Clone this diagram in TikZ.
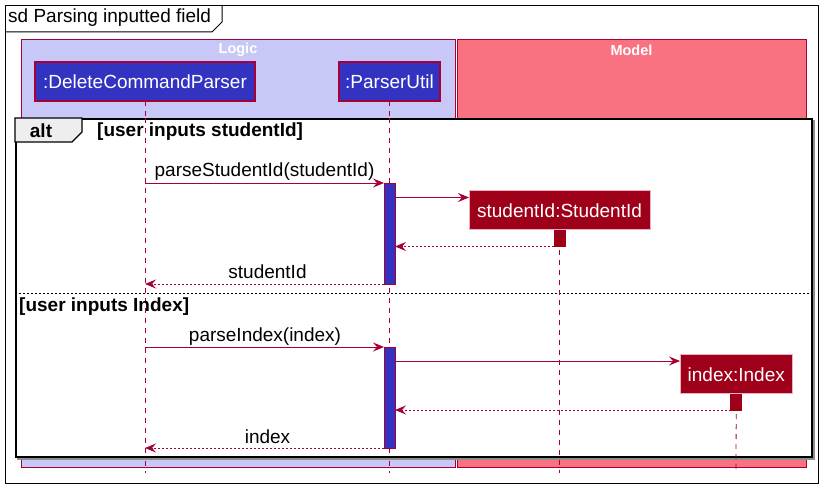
\documentclass[tikz,border=0pt]{standalone}
\usepackage{fontspec}
\setmainfont{Liberation Sans}
\usetikzlibrary{arrows.meta}
\definecolor{crim}{HTML}{A80036}
\definecolor{logicfill}{HTML}{C8C8F8}
\definecolor{modelfill}{HTML}{F87281}
\definecolor{partblue}{HTML}{3333C2}
\definecolor{objred}{HTML}{9F0019}
\definecolor{objborder}{HTML}{F0B0C0}
\definecolor{tabgray}{HTML}{EEEEEE}
\tikzset{
  txt/.style={font=\fontsize{19}{22}\selectfont, inner sep=0pt},
  boldtxt/.style={font=\fontsize{19}{22}\selectfont\bfseries, inner sep=0pt},
  pkgbox/.style={draw=crim, line width=0.8pt, anchor=north west, inner sep=0pt, outer sep=0pt},
  pkgtitle/.style={font=\fontsize{14.5}{16}\selectfont\bfseries, text=white, inner sep=0pt},
  partbox/.style={draw=crim, line width=1.4pt, fill=partblue, text=white, anchor=north west, inner sep=0pt, outer sep=0pt, font=\fontsize{19}{22}\selectfont},
  objbox/.style={draw=objborder, line width=1pt, fill=objred, text=white, anchor=north west, inner sep=0pt, outer sep=0pt, font=\fontsize{19}{22}\selectfont},
  actbar/.style={draw=crim, line width=0.8pt, fill=partblue, anchor=north west, inner sep=0pt, outer sep=0pt, minimum width=11, text width=0pt},
  objact/.style={draw=objred, line width=0.8pt, fill=objred, anchor=north west, inner sep=0pt, outer sep=0pt, minimum width=11, text width=0pt},
  lifeline/.style={draw=crim, line width=0.8pt, dash pattern=on 5pt off 5pt},
  msg/.style={draw=crim, line width=0.9pt, -{Stealth[length=11pt,width=9pt,inset=4pt]}},
  ret/.style={msg, dash pattern=on 2pt off 2pt},
}
\begin{document}
\begin{tikzpicture}[x=1pt,y=-1pt]
\useasboundingbox[fill=white] (0,0) rectangle (823,489);
% outer frame
\node[draw=black, line width=1pt, anchor=north west, minimum width=813, minimum height=478, inner sep=0pt] (frame) at (5,5) {};
\draw[black, line width=1pt] (5,32) -- (212,32) -- (222,22) -- (222,5);
\node[txt, anchor=west] (title) at (8,18) {sd Parsing inputted field};
% packages
\node[pkgbox, fill=logicfill, minimum width=434, minimum height=428] (logic) at (21,39) {};
\node[pkgbox, fill=modelfill, minimum width=349, minimum height=428] (model) at (457,39) {};
\node[pkgtitle] (logicT) at (238,50) {Logic};
\node[pkgtitle] (modelT) at (631.5,50) {Model};
% participants
\node[partbox, minimum width=220, minimum height=39] (dcp) at (35,62) {:DeleteCommandParser};
\node[partbox, minimum width=101, minimum height=39] (pu) at (339,62) {:ParserUtil};
\coordinate (dcpEnd) at (145,473);
\coordinate (puEnd) at (389.5,473);
\coordinate (sidEnd) at (559.5,473);
\coordinate (idxEnd) at (736,473);
\draw[lifeline] (dcp.south) -- (dcpEnd);
\draw[lifeline] (pu.south) -- (puEnd);
% alt frame
\node[draw=black!45, line width=1.5pt, anchor=north west, minimum width=796, minimum height=338, inner sep=0pt] (altshadow) at (17,120) {};
\node[draw=black, fill=white, line width=1.6pt, anchor=north west, minimum width=796, minimum height=338, inner sep=0pt] (alt) at (15,118) {};
\draw[lifeline] (145,118) -- (145,456);
\draw[lifeline] (389.5,118) -- (389.5,456);
\draw[black, line width=1.2pt, fill=tabgray] (15,118) -- (82,118) -- (82,132) -- (72,142) -- (15,142) -- cycle;
\node[boldtxt] (altlbl) at (41,131) {alt};
\node[boldtxt, anchor=west] (g1) at (97,132) {[user inputs studentId]};
\draw[black, line width=0.8pt, dash pattern=on 2pt off 2pt] (15,293) -- (811,293);
\node[boldtxt, anchor=west] (g2) at (19,307) {[user inputs Index]};
% ---- first operand
\coordinate (m1s) at (145,183);
\node[actbar, minimum height=101] (act1) at (384,183) {};
\draw[msg] (m1s) -- (act1.north west);
\node[txt] (m1l) at (264.5,172) {parseStudentId(studentId)};
\node[objbox, minimum width=181, minimum height=39.5] (sid) at (469,190.5) {studentId:StudentId};
\draw[lifeline] (sid.south) -- (sidEnd);
\node[objact, minimum height=16.5] (sidact) at (554,230) {};
\coordinate (m2s) at (395,197.5);
\coordinate (m2e) at (469,197.5);
\draw[msg] (m2s) -- (m2e);
\coordinate (m3e) at (395,246.5);
\draw[ret] (sidact.south west) -- (m3e);
\coordinate (m4e) at (145,284);
\draw[ret] (act1.south west) -- (m4e);
\node[txt] (m4l) at (267.5,272) {studentId};
% ---- second operand
\coordinate (m5s) at (145,347);
\node[actbar, minimum height=101] (act2) at (384,347) {};
\draw[msg] (m5s) -- (act2.north west);
\node[txt] (m5l) at (265,337) {parseIndex(index)};
\node[objbox, minimum width=112.5, minimum height=39] (idx) at (680,355) {index:Index};
\draw[lifeline] (idx.south) -- (idxEnd);
\node[objact, minimum height=16] (idxact) at (730.5,394) {};
\coordinate (m6s) at (395,361);
\coordinate (m6e) at (680,361);
\draw[msg] (m6s) -- (m6e);
\coordinate (m7e) at (395,410);
\draw[ret] (idxact.south west) -- (m7e);
\coordinate (m8e) at (145,448);
\draw[ret] (act2.south west) -- (m8e);
\node[txt] (m8l) at (267.5,437) {index};
\end{tikzpicture}
\end{document}
